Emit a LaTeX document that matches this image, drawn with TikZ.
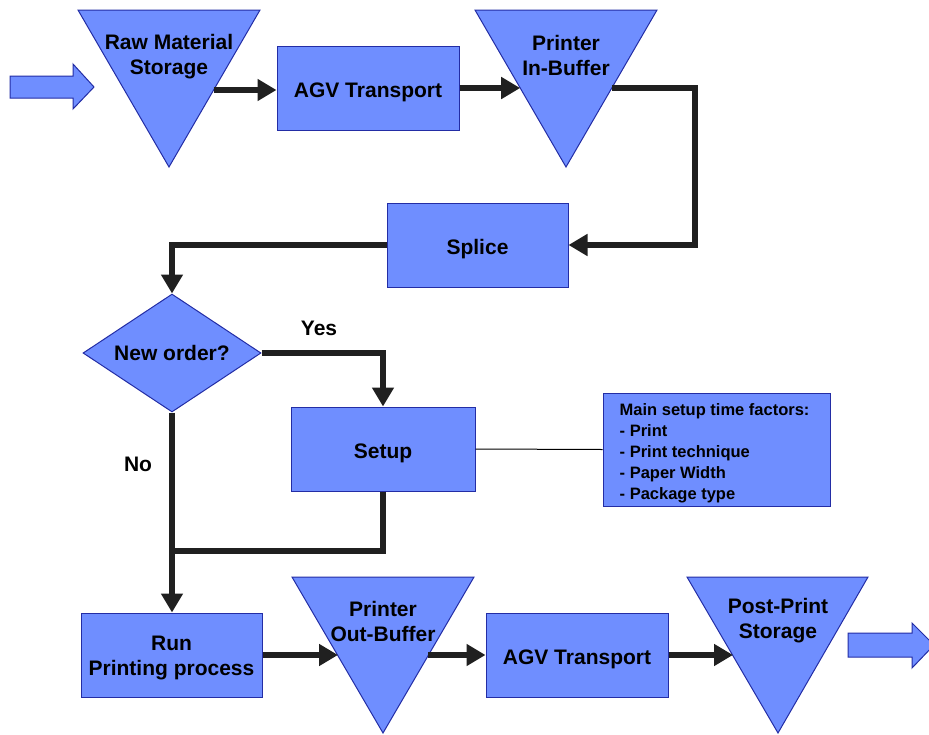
\documentclass[tikz,border=0pt]{standalone}
\usepackage{fontspec}
\setmainfont{Liberation Sans}
\usetikzlibrary{arrows.meta,shapes.geometric,calc}
\definecolor{boxfill}{RGB}{111,142,255}
\definecolor{boxline}{RGB}{35,45,165}
\definecolor{flowline}{RGB}{32,32,32}
\begin{document}
\begin{tikzpicture}[x=1pt,y=-1pt,
  bigfont/.style={font=\fontsize{21}{25}\selectfont\bfseries},
  procbox/.style={draw=boxline,fill=boxfill,line width=1pt,minimum width=#1,
    minimum height=84pt,inner sep=0pt,align=center,bigfont,
    text height=20pt,text depth=2pt},
  procbox/.default=182pt,
  store/.style={draw=boxline,fill=boxfill,line width=1pt,line join=miter},
  storetext/.style={align=center,bigfont,inner sep=0pt},
  decision/.style={diamond,draw=boxline,fill=boxfill,line width=1pt,
    minimum width=178pt,minimum height=118pt,aspect=1.51,inner sep=0pt,bigfont},
  fatarrow/.style={draw=boxline,fill=boxfill,line width=1pt,line join=miter},
  flow/.style={draw=flowline,line width=6.5pt,
    -{Triangle[length=19pt,width=21pt]}},
  plainflow/.style={draw=flowline,line width=6.5pt},
  thinlink/.style={draw=black,line width=1pt},
  answer/.style={bigfont,inner sep=0pt},
  notebox/.style={draw=boxline,fill=boxfill,line width=1pt,
    minimum width=227pt,minimum height=113pt,inner sep=0pt}
]
\useasboundingbox (0,0) rectangle (929,734);

% incoming and outgoing block arrows
\filldraw[fatarrow] (10,76) -- (73,76) -- (73,64) -- (94,87) -- (73,109)
  -- (73,98) -- (10,98) -- cycle;
\filldraw[fatarrow] (848,633) -- (912,633) -- (912,623) -- (934,645)
  -- (912,668) -- (912,657) -- (848,657) -- cycle;

% storage triangles
\filldraw[store] (78,10) -- (260,10) -- (169,167) -- cycle;
\node[storetext] (raw) at (169,56.5) {Raw Material\\Storage};
\filldraw[store] (475,10) -- (657,10) -- (566,167) -- cycle;
\node[storetext] (inbuf) at (566,55) {Printer\\In-Buffer};
\filldraw[store] (292,577) -- (474,577) -- (383,733) -- cycle;
\node[storetext] (outbuf) at (383,621) {Printer\\Out-Buffer};
\filldraw[store] (687,577) -- (868,577) -- (778,733) -- cycle;
\node[storetext] (post) at (778,621) {Post-Print\\Storage};

% points where the flow lines meet the triangle sides
\coordinate (rawR) at (213.6,90);
\coordinate (inL) at (520.2,88);
\coordinate (inR) at (611.8,88);
\coordinate (inbend) at (695,88);
\coordinate (outL) at (338,655);
\coordinate (outR) at (428,655);
\coordinate (postL) at (733,655);
\coordinate (join) at (172,551);

% process boxes
\node[procbox] (agv1) at (368,88) {AGV Transport};
\node[procbox=181pt] (splice) at (477.5,245) {Splice};
\node[decision] (dia) at (172,353) {New order?};
\node[procbox=184pt] (setup) at (383,449) {Setup};
\node[procbox=181pt,text height=44pt,text depth=2.5pt] (run) at (171.5,655)
  {Run\\Printing process};
\node[procbox] (agv2) at (577,655) {AGV Transport};

% setup time note
\node[notebox] (note) at (716.5,449.5) {};
\node[anchor=west,align=left,inner sep=0pt,
  font=\fontsize{16.5}{21}\selectfont\bfseries] (notetext)
  at ($(note.west)+(17,4)$)
  {Main setup time factors:\\- Print\\- Print technique\\- Paper Width\\- Package type};

% flow connectors
\draw[flow] (rawR) -- (rawR -| agv1.west);
\draw[flow] (agv1.east) -- (inL);
\draw[flow] (inR) -- (inbend) |- (splice.east);
\draw[flow] (splice.west) -| (dia.north);
\draw[flow] (dia.east) -| (setup.north);
\draw[flow] (dia.south) -- (dia.south |- run.north);
\draw[plainflow] (setup.south) |- (join);
\draw[flow] (run.east) -- (outL);
\draw[flow] (outR) -- (agv2.west);
\draw[flow] (agv2.east) -- (postL);
\draw[thinlink] (setup.east) -- (note.west);

% decision labels
\node[answer] (yes) at (319,328) {Yes};
\node[answer] (no) at (138,464) {No};
\end{tikzpicture}
\end{document}
